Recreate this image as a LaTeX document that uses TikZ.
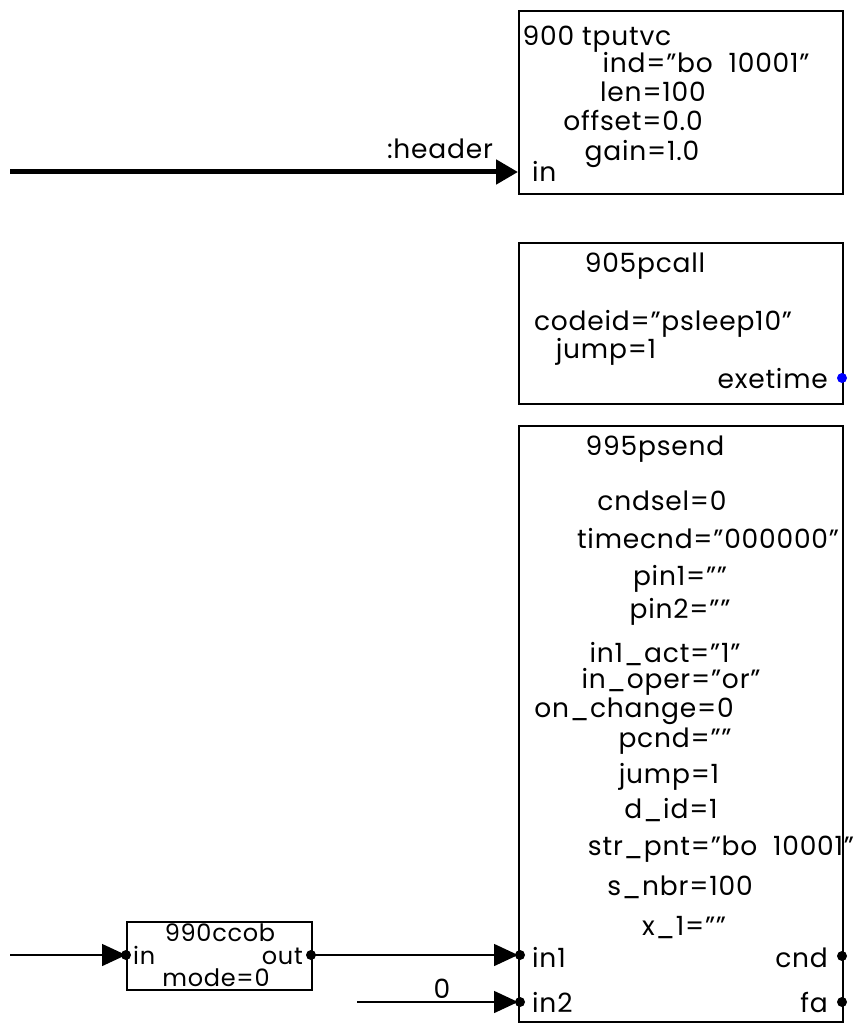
\documentclass[tikz,border=0pt]{standalone}
\usepackage{fontspec}
\setmainfont{Poppins}[LetterSpace=3]
\usetikzlibrary{arrows.meta}
\begin{document}
\begin{tikzpicture}[x=1pt,y=-1pt,
  blk/.style={draw, line width=2pt, anchor=north west, inner sep=0pt},
  lbl/.style={font=\fontsize{26.5}{30}\selectfont, inner sep=0pt, anchor=base},
  lblw/.style={lbl, anchor=base west},
  lble/.style={lbl, anchor=base east},
  small/.style={font=\fontsize{24}{28}\selectfont},
  wire/.style={line width=1.5pt, -{Triangle[length=24pt,width=22pt]}},
  bus/.style={line width=5pt, -{Triangle[length=22pt,width=24pt]}},
  pdot/.style={circle, fill=black, draw=none, inner sep=0pt, minimum size=10pt},
  bdot/.style={pdot, fill=blue}]
\useasboundingbox (0,0) rectangle (865,1024);
% blocks
\node[blk, minimum width=324pt, minimum height=183pt] (b900) at (518,10) {};
\node[blk, minimum width=324pt, minimum height=161pt] (b905) at (518,242) {};
\node[blk, minimum width=324pt, minimum height=596pt] (b995) at (518,425) {};
\node[blk, minimum width=185pt, minimum height=68pt, line width=1.5pt] (b990) at (126,921) {};
% ports
\coordinate (p900in) at (518,172);
\coordinate (p995in1) at (518,955);
\coordinate (p995in2) at (518,1002);
\coordinate (p990in) at (126,955);
\coordinate (p990out) at (311,955);
\coordinate (hstart) at (10,172);
\coordinate (istart) at (10,955);
\coordinate (zstart) at (357,1002);
% block 900 text
\node[lbl] (t900) at (597,46) {900 tputvc};
\node[lbl] (t900a) at (706,73) {ind=”bo\ \ 10001”};
\node[lbl] (t900b) at (653,102) {len=100};
\node[lbl] (t900c) at (633,131) {offset=0.0};
\node[lbl] (t900d) at (642,161) {gain=1.0};
\node[lblw] (t900e) at (532,182) {in};
% block 905 text
\node[lbl] (t905) at (645,272) {905pcall};
\node[lbl] (t905a) at (663,330) {codeid=”psleep10”};
\node[lbl] (t905b) at (606,358) {jump=1};
\node[lble] (t905c) at (828,388) {exetime};
\node[bdot] (d905) at (842,378) {};
% block 995 text
\node[lbl] (t995) at (655,455) {995psend};
\node[lbl] (r1) at (662,510) {cndsel=0};
\node[lbl] (r2) at (708,548) {timecnd=”000000”};
\node[lbl] (r3) at (680,585) {pin1=””};
\node[lbl] (r4) at (680,618) {pin2=””};
\node[lbl] (r5) at (665,662) {in1\_act=”1”};
\node[lbl] (r6) at (671,688) {in\_oper=”or”};
\node[lbl] (r7) at (634,717) {on\_change=0};
\node[lbl] (r8) at (675,747) {pcnd=””};
\node[lbl] (r9) at (669,783) {jump=1};
\node[lbl] (r10) at (671,818) {d\_id=1};
\node[lbl] (r11) at (721,855) {str\_pnt=”bo\ \ 10001”};
\node[lbl] (r12) at (680,895) {s\_nbr=100};
\node[lbl] (r13) at (684,935) {x\_1=””};
\node[lblw] (r14) at (532,967) {in1};
\node[lble] (r15) at (828,967) {cnd};
\node[lblw] (r16) at (532,1012) {in2};
\node[lble] (r17) at (828,1012) {fa};
% block 990 text
\node[lbl, small] (t990) at (220,941) {990ccob};
\node[lblw, small] (t990a) at (133,964) {in};
\node[lble, small] (t990b) at (303,964) {out};
\node[lbl, small] (t990c) at (216,986) {mode=0};
% connectors
\draw[bus] (hstart) -- (p900in);
\node[lbl] (hlbl) at (440,159) {:header};
\draw[wire] (istart) -- (p990in);
\draw[wire] (p990out) -- (p995in1);
\draw[wire] (zstart) -- (p995in2);
\node[lbl] (zlbl) at (442,998) {0};
% port dots
\node[pdot] (d990in) at (p990in) {};
\node[pdot] (d990out) at (p990out) {};
\node[pdot] (d995in1) at (520,955) {};
\node[pdot] (d995in2) at (520,1002) {};
\node[pdot] (d995cnd) at (842,956) {};
\node[pdot] (d995fa) at (842,1002) {};
\end{tikzpicture}
\end{document}
